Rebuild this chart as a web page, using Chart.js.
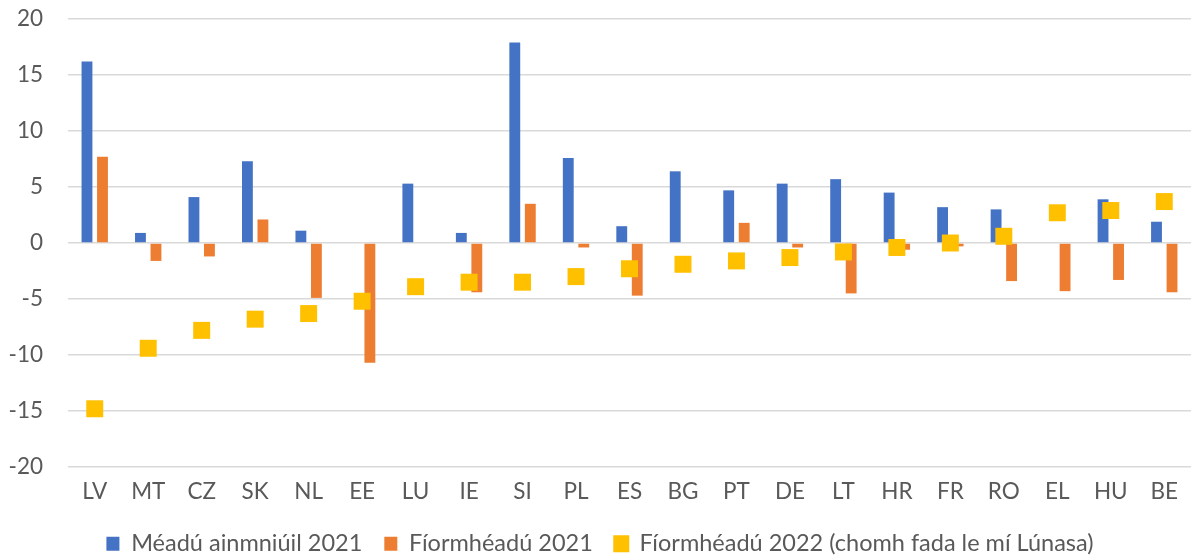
<!DOCTYPE html>
<html>
<head>
<meta charset="utf-8">
<script src="https://cdn.jsdelivr.net/npm/chart.js@4.4.0/dist/chart.umd.min.js"></script>
<style>
  html, body { margin: 0; padding: 0; background: #fff; }
  #wrap { width: 1196px; height: 557px; position: relative; }
</style>
</head>
<body>
<div id="wrap"><canvas id="chart"></canvas></div>
<script>
    // Data
    var countries = ["LV", "MT", "CZ", "SK", "NL", "EE", "LU", "IE", "SI", "PL", "ES", "BG", "PT", "DE", "LT", "HR", "FR", "RO", "EL", "HU", "BE"];
    var nominal2021 = [16.2, 0.9, 4.1, 7.3, 1.1, null, 5.3, 0.9, 17.9, 7.6, 1.5, 6.4, 4.7, 5.3, 5.7, 4.5, 3.2, 3.0, null, 3.9, 1.9];
    var real2021 = [7.7, -1.6, -1.2, 2.1, -4.9, -10.7, null, -4.4, 3.5, -0.4, -4.7, null, 1.8, -0.4, -4.5, -0.6, -0.3, -3.4, -4.3, -3.3, -4.4];
    var real2022 = [-14.8, -9.4, -7.8, -6.8, -6.3, -5.2, -3.9, -3.5, -3.5, -3.0, -2.3, -1.9, -1.6, -1.3, -0.8, -0.4, 0.0, 0.6, 2.7, 2.9, 3.7];
    var yTicks = [20, 15, 10, 5, 0, -5, -10, -15, -20];

    var textColor = "#595959";
    var gridColor = "#d9d9d9";

    Chart.defaults.font.family = "Lato, 'Noto Sans', sans-serif";
    Chart.defaults.font.size = 22.5;
    Chart.defaults.color = textColor;

    // fixed legend height so the plot area keeps its place
    var legendHeight = {
        id: "legendHeight",
        beforeInit: function (chart) {
            var origFit = chart.legend.fit;
            chart.legend.fit = function () {
                origFit.bind(chart.legend)();
                this.height = 47;
            };
        }
    };

    var ctx = document.getElementById("chart").getContext("2d");
    var myChart = new Chart(ctx, {
        type: "bar",
        data: {
            labels: countries,
            datasets: [{
                label: "Méadú ainmniúil 2021",
                backgroundColor: "#4472C4",
                data: nominal2021,
                order: 1
            }, {
                label: "Fíormhéadú 2021",
                backgroundColor: "#ED7D31",
                data: real2021,
                order: 1
            }, {
                type: "line",
                label: "Fíormhéadú 2022 (chomh fada le mí Lúnasa)",
                data: real2022,
                showLine: false,
                backgroundColor: "#FFC000",
                borderColor: "#FFC000",
                pointStyle: "rect",
                pointRadius: 12,
                pointBorderWidth: 0,
                order: 0
            }]
        },
        options: {
            responsive: true,
            maintainAspectRatio: false,
            animation: false,
            layout: {
                autoPadding: false,
                padding: { left: 9, right: 5, top: 19, bottom: 0 }
            },
            datasets: {
                bar: {
                    categoryPercentage: 0.58,
                    barPercentage: 0.7
                }
            },
            scales: {
                x: {
                    grid: { display: false, drawTicks: false },
                    border: { display: false },
                    ticks: { padding: 11, color: textColor },
                    afterFit: function (scale) {
                        scale.height = 43;
                        scale.paddingLeft = 0;
                        scale.paddingRight = 0;
                    }
                },
                y: {
                    min: -20,
                    max: 20,
                    afterBuildTicks: function (axis) {
                        axis.ticks = yTicks.map(function (v) { return { value: v }; });
                    },
                    grid: { color: gridColor, lineWidth: 1.5, drawTicks: false },
                    border: { display: false },
                    ticks: { padding: 25, color: textColor },
                    afterFit: function (scale) {
                        scale.width = 59;
                        scale.paddingTop = 0;
                        scale.paddingBottom = 0;
                    }
                }
            },
            plugins: {
                legend: {
                    position: "bottom",
                    labels: {
                        boxWidth: 13,
                        boxHeight: 14,
                        padding: 22,
                        color: textColor,
                        font: { size: 23.5 },
                        sort: function (a, b) { return a.datasetIndex - b.datasetIndex; }
                    }
                },
                tooltip: { enabled: false }
            }
        },
        plugins: [legendHeight]
    });
</script>
</body>
</html>
